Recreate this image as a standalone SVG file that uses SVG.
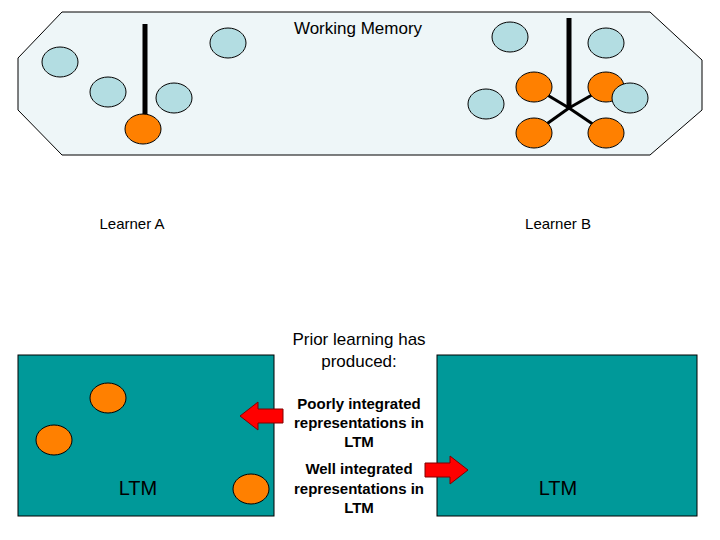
<svg xmlns="http://www.w3.org/2000/svg" width="720" height="540" viewBox="0 0 720 540">
<style>
text{font-family:"Liberation Sans",Arial,sans-serif;fill:#000}
.b{fill:#b3dde2;stroke:#000;stroke-width:1}
.o{fill:#ff8000;stroke:#000;stroke-width:1}
.box{fill:#009999;stroke:#000;stroke-width:1}
.arr{fill:#ff0000;stroke:#800000;stroke-width:1}
</style>
<rect width="720" height="540" fill="#fff"/>
<g id="wm">
<polygon points="62,12 650,12 702,60 702,110 650,155 62,155 18,110 18,58" fill="#eef6f8" stroke="#000"/>
<text x="358" y="34" font-size="17" text-anchor="middle">Working Memory</text>
</g>
<g id="connectors" stroke="#000">
<line x1="145" y1="24" x2="145" y2="118" stroke-width="5"/>
<line x1="569" y1="18" x2="569" y2="108" stroke-width="5"/>
<line x1="569" y1="108" x2="534" y2="87" stroke-width="3"/>
<line x1="569" y1="108" x2="606" y2="87" stroke-width="3"/>
<line x1="569" y1="108" x2="534" y2="133" stroke-width="3"/>
<line x1="569" y1="108" x2="606" y2="133" stroke-width="3"/>
</g>
<g id="learnerA">
<ellipse class="b" cx="60" cy="62" rx="18" ry="15"/>
<ellipse class="b" cx="108" cy="92" rx="18" ry="15"/>
<ellipse class="b" cx="228" cy="43" rx="18" ry="15"/>
<ellipse class="b" cx="174" cy="98" rx="18" ry="15"/>
<ellipse class="o" cx="143" cy="129" rx="18" ry="15"/>
</g>
<g id="learnerB">
<ellipse class="b" cx="510" cy="37" rx="18" ry="15"/>
<ellipse class="b" cx="606" cy="43" rx="18" ry="15"/>
<ellipse class="b" cx="486" cy="104" rx="18" ry="15"/>
<ellipse class="o" cx="534" cy="87" rx="18" ry="15"/>
<ellipse class="o" cx="606" cy="87" rx="18" ry="15"/>
<ellipse class="o" cx="534" cy="133" rx="18" ry="15"/>
<ellipse class="o" cx="606" cy="133" rx="18" ry="15"/>
<ellipse class="b" cx="630" cy="98" rx="18" ry="15"/>
</g>
<text x="132" y="229" font-size="15" text-anchor="middle">Learner A</text>
<text x="558" y="229" font-size="15" text-anchor="middle">Learner B</text>
<text x="359" y="345" font-size="17" text-anchor="middle">Prior learning has</text>
<text x="359" y="367" font-size="17" text-anchor="middle">produced:</text>
<g id="ltmA">
<rect class="box" x="18" y="355" width="256" height="161"/>
<ellipse class="o" cx="108" cy="398" rx="18" ry="15"/>
<ellipse class="o" cx="54" cy="440" rx="18" ry="15"/>
<ellipse class="o" cx="251" cy="489" rx="18" ry="15"/>
<text x="138" y="495" font-size="20" text-anchor="middle">LTM</text>
</g>
<g id="ltmB">
<rect class="box" x="437" y="355" width="260" height="161"/>
<text x="558" y="495" font-size="20" text-anchor="middle">LTM</text>
</g>
<g id="labels" font-size="15" font-weight="bold">
<text x="359" y="409" font-size="15" text-anchor="middle">Poorly integrated</text>
<text x="359" y="428" font-size="15" text-anchor="middle">representations in</text>
<text x="359" y="447" font-size="15" text-anchor="middle">LTM</text>
<text x="359" y="474" font-size="15" text-anchor="middle">Well integrated</text>
<text x="359" y="494" font-size="15" text-anchor="middle">representations in</text>
<text x="359" y="513" font-size="15" text-anchor="middle">LTM</text>
</g>
<polygon class="arr" points="283,409 258,409 258,402 240,416 258,430 258,423 283,423"/>
<polygon class="arr" points="425,463 450,463 450,456 468,470 450,484 450,477 425,477"/>
</svg>
